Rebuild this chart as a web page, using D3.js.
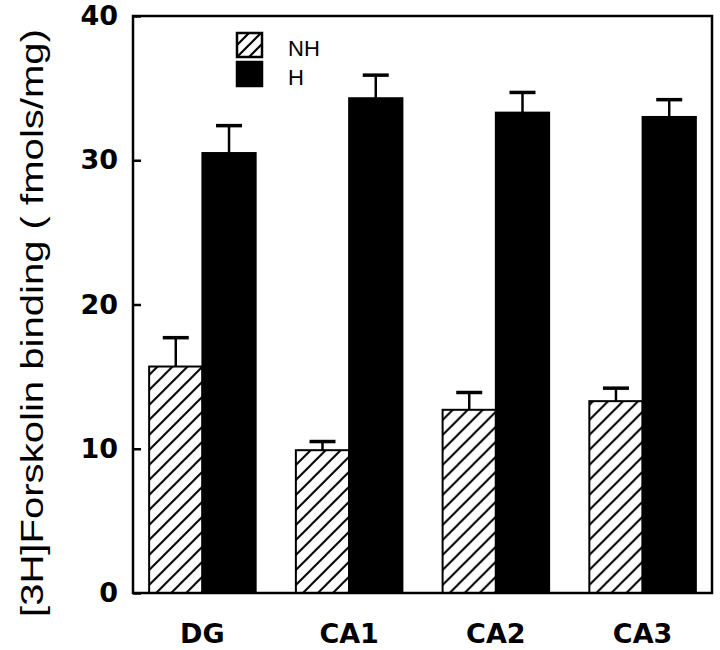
<!DOCTYPE html>
<html>
<head>
<meta charset="utf-8">
<script src="https://cdn.jsdelivr.net/npm/d3@7"></script>
<style>
  html, body { margin: 0; padding: 0; background: #fff; }
  svg { display: block; }
</style>
</head>
<body>
<div id="chart"></div>
<script>
const categories = ["DG", "CA1", "CA2", "CA3"];
const seriesNames = ["NH", "H"];
const nhValues = [15.7, 9.9, 12.7, 13.3];
const nhErrors = [2.0, 0.6, 1.2, 0.9];
const hValues = [30.5, 34.3, 33.3, 33.0];
const hErrors = [1.9, 1.6, 1.4, 1.2];
const yTicks = [0, 10, 20, 30, 40];
const yLabel = "[3H]Forskolin binding ( fmols/mg)";

const W = 720, H = 650;
const mLeft = 133, mRight = 712, mTop = 16, mBottom = 593;

const svg = d3.select("#chart").append("svg").attr("width", W).attr("height", H);

const defs = svg.append("defs");
const pat = defs.append("pattern")
  .attr("id", "hatch").attr("patternUnits", "userSpaceOnUse")
  .attr("width", 15).attr("height", 15);
pat.append("path")
  .attr("d", "M0,15 L15,0 M-3.75,3.75 L3.75,-3.75 M11.25,18.75 L18.75,11.25")
  .attr("stroke", "#000").attr("stroke-width", 2).attr("fill", "none");

const legPat = defs.append("pattern")
  .attr("id", "hatchLeg").attr("patternUnits", "userSpaceOnUse")
  .attr("width", 12).attr("height", 12).attr("x", 237).attr("y", 33);
legPat.append("path")
  .attr("d", "M0,12 L12,0 M-3,3 L3,-3 M9,15 L15,9")
  .attr("stroke", "#000").attr("stroke-width", 2.2).attr("fill", "none");

const x = d3.scaleBand().domain(categories).range([mLeft, mRight])
  .paddingInner(0.274).paddingOuter(0.11);
const xs = d3.scaleBand().domain(seriesNames).range([0, x.bandwidth()]);
const y = d3.scaleLinear().domain([0, 40]).range([mBottom, mTop]);

const rows = categories.map((c, i) => ({
  cat: c,
  bars: [
    { s: "NH", v: nhValues[i], e: nhErrors[i] },
    { s: "H", v: hValues[i], e: hErrors[i] }
  ]
}));

const g = svg.append("g");
const groups = g.selectAll("g.grp").data(rows).join("g")
  .attr("class", "grp")
  .attr("transform", d => `translate(${x(d.cat)},0)`);

// error bars (upper only)
groups.selectAll("g.err").data(d => d.bars).join("g").attr("class", "err")
  .each(function(d) {
    const gx = xs(d.s) + xs.bandwidth() / 2;
    const sel = d3.select(this);
    sel.append("line")
      .attr("x1", gx).attr("x2", gx)
      .attr("y1", y(d.v)).attr("y2", y(d.v + d.e))
      .attr("stroke", "#000").attr("stroke-width", 2.5);
    sel.append("line")
      .attr("x1", gx - 13).attr("x2", gx + 13)
      .attr("y1", y(d.v + d.e)).attr("y2", y(d.v + d.e))
      .attr("stroke", "#000").attr("stroke-width", 3.5);
  });

groups.selectAll("rect").data(d => d.bars).join("rect")
  .attr("x", d => xs(d.s))
  .attr("width", xs.bandwidth())
  .attr("y", d => y(d.v))
  .attr("height", d => y(0) - y(d.v))
  .attr("fill", d => d.s === "NH" ? "url(#hatch)" : "#000")
  .attr("stroke", "#000").attr("stroke-width", 2);

// frame
svg.append("rect")
  .attr("x", mLeft).attr("y", mTop)
  .attr("width", mRight - mLeft).attr("height", mBottom - mTop)
  .attr("fill", "none").attr("stroke", "#000").attr("stroke-width", 2.5);

// y axis
const yAxis = svg.append("g")
  .attr("transform", `translate(${mLeft},0)`)
  .call(d3.axisLeft(y).tickValues(yTicks).tickSize(-8).tickPadding(15).tickFormat(d3.format("d")));
yAxis.select(".domain").remove();
yAxis.selectAll(".tick line").attr("stroke", "#000").attr("stroke-width", 2.5);
yAxis.selectAll(".tick text")
  .attr("font-family", "'DejaVu Sans', sans-serif")
  .attr("font-size", 27).attr("font-weight", "bold").attr("fill", "#000");

// x labels
svg.append("g").selectAll("text").data(categories).join("text")
  .attr("x", d => x(d) + x.bandwidth() / 2)
  .attr("y", 643)
  .attr("text-anchor", "middle")
  .attr("font-family", "'DejaVu Sans', sans-serif")
  .attr("font-size", 27).attr("font-weight", "bold")
  .text(d => d);

// y label
svg.append("text")
  .attr("transform", `translate(43,323) rotate(-90)`)
  .attr("text-anchor", "middle")
  .attr("font-family", "'Liberation Sans', Arial, sans-serif")
  .attr("font-size", 32)
  .attr("textLength", 588)
  .attr("lengthAdjust", "spacingAndGlyphs")
  .text(yLabel);

// legend
const leg = svg.append("g");
const legItems = [
  { s: "NH", fill: "url(#hatchLeg)", yy: 33 },
  { s: "H", fill: "#000", yy: 62 }
];
leg.selectAll("rect").data(legItems).join("rect")
  .attr("x", 237).attr("y", d => d.yy).attr("width", 25).attr("height", 24)
  .attr("fill", d => d.fill).attr("stroke", "#000").attr("stroke-width", 2.5);
leg.selectAll("text").data(legItems).join("text")
  .attr("x", 288).attr("y", d => d.yy + 23)
  .attr("font-family", "'Liberation Sans', Arial, sans-serif")
  .attr("font-size", 22)
  .text(d => d.s);
</script>
</body>
</html>
